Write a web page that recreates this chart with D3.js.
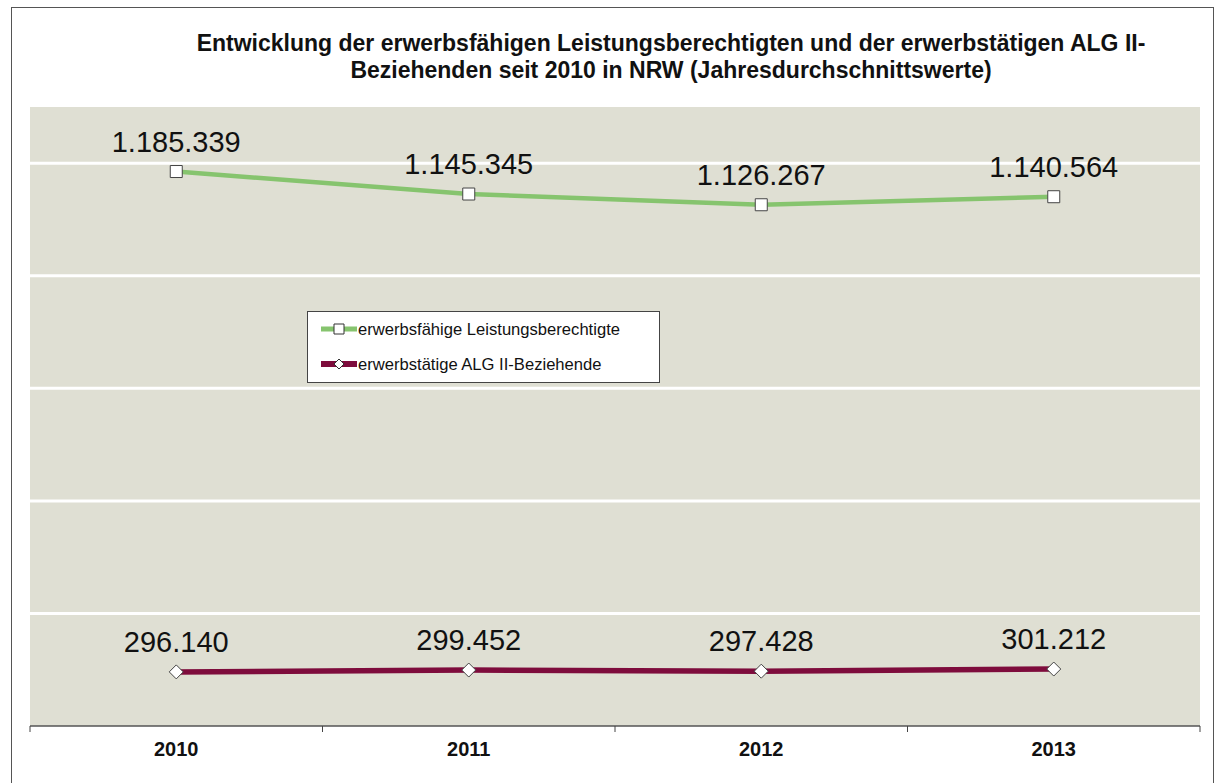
<!DOCTYPE html>
<html>
<head>
<meta charset="utf-8">
<script src="https://cdn.jsdelivr.net/npm/d3@7"></script>
<style>
  html, body { margin: 0; padding: 0; background: #ffffff; }
  svg { display: block; font-family: Arial, "Liberation Sans", sans-serif; }
</style>
</head>
<body>
<svg id="chart" width="1215" height="783"></svg>
<script>
// Jahresdurchschnittswerte NRW
const years = ["2010", "2011", "2012", "2013"];
const elbValues = [1185339, 1145345, 1126267, 1140564];   // erwerbsfähige Leistungsberechtigte
const algValues = [296140, 299452, 297428, 301212];       // erwerbstätige ALG II-Beziehende
const seriesNames = ["erwerbsfähige Leistungsberechtigte", "erwerbstätige ALG II-Beziehende"];
const valueTicks = [200000, 400000, 600000, 800000, 1000000, 1200000];
const valueDomain = [200000, 1300000];
const titleLines = [
  "Entwicklung der erwerbsfähigen Leistungsberechtigten und der erwerbstätigen ALG II-",
  "Beziehenden seit 2010 in NRW (Jahresdurchschnittswerte)"
];

const svg = d3.select("#chart");
const plot = { left: 30, right: 1200, top: 107, bottom: 726 };

// outer frame
svg.append("rect")
  .attr("x", 11.5).attr("y", 7.5)
  .attr("width", 1202).attr("height", 800)
  .attr("fill", "#ffffff").attr("stroke", "#555555").attr("stroke-width", 1);

// title
const title = svg.append("text")
  .attr("text-anchor", "middle")
  .attr("font-size", 23).attr("font-weight", "bold").attr("fill", "#111");
title.selectAll("tspan").data(titleLines).join("tspan")
  .attr("x", 671)
  .attr("y", (d, i) => 51 + i * 27)
  .text(d => d);

const x = d3.scaleBand().domain(years).range([plot.left, plot.right]).paddingInner(0).paddingOuter(0);
const y = d3.scaleLinear().domain(valueDomain).range([plot.bottom, plot.top]);
const cx = d => x(d) + x.bandwidth() / 2;

// plot background
svg.append("rect")
  .attr("x", plot.left).attr("y", plot.top)
  .attr("width", plot.right - plot.left).attr("height", plot.bottom - plot.top)
  .attr("fill", "#dfdfd3");

// horizontal gridlines
svg.append("g").selectAll("line").data(valueTicks.slice(1)).join("line")
  .attr("x1", plot.left).attr("x2", plot.right)
  .attr("y1", d => y(d)).attr("y2", d => y(d))
  .attr("stroke", "#ffffff").attr("stroke-width", 3);

// category axis
const xAxis = svg.append("g").attr("transform", `translate(0,${plot.bottom})`);
xAxis.append("line")
  .attr("x1", plot.left).attr("x2", plot.right)
  .attr("stroke", "#555555").attr("stroke-width", 1.5);
const bounds = years.map(d => x(d)).concat([plot.right]);
xAxis.selectAll("line.tick").data(bounds).join("line")
  .attr("class", "tick")
  .attr("x1", d => d).attr("x2", d => d)
  .attr("y1", 0).attr("y2", 6)
  .attr("stroke", "#444").attr("stroke-width", 1);
xAxis.selectAll("text").data(years).join("text")
  .attr("x", d => cx(d)).attr("y", 30)
  .attr("text-anchor", "middle")
  .attr("font-size", 20).attr("font-weight", "bold").attr("fill", "#111")
  .text(d => d);

const fmt = v => d3.format(",")(v).replace(/,/g, ".");

function drawSeries(values, color, width, marker) {
  const data = years.map((yr, i) => ({ yr, v: values[i] }));
  const line = d3.line().x(d => cx(d.yr)).y(d => y(d.v));
  const g = svg.append("g");
  g.append("path").datum(data)
    .attr("d", line).attr("fill", "none")
    .attr("stroke", color).attr("stroke-width", width)
    .attr("stroke-linejoin", "round");
  g.selectAll("path.m").data(data).join("path")
    .attr("class", "m")
    .attr("transform", d => `translate(${cx(d.yr)},${y(d.v)})`)
    .attr("d", marker)
    .attr("fill", "#ffffff").attr("stroke", "#444").attr("stroke-width", 1);
  g.selectAll("text").data(data).join("text")
    .attr("x", d => cx(d.yr)).attr("y", d => y(d.v) - 20)
    .attr("text-anchor", "middle")
    .attr("font-size", 29).attr("fill", "#111")
    .text(d => fmt(d.v));
}

const squareMarker = "M-6,-6H6V6H-6Z";
const diamondMarker = "M0,-7L7,0L0,7L-7,0Z";

drawSeries(elbValues, "#86c46e", 4.5, squareMarker);
drawSeries(algValues, "#7e0c3c", 5.5, diamondMarker);

// legend
const legend = svg.append("g");
legend.append("rect")
  .attr("x", 307.5).attr("y", 311.5).attr("width", 352).attr("height", 71)
  .attr("fill", "#ffffff").attr("stroke", "#444").attr("stroke-width", 1);
const legendItems = [
  { name: seriesNames[0], color: "#86c46e", w: 5, marker: "M-5,-5H5V5H-5Z", y: 329 },
  { name: seriesNames[1], color: "#7e0c3c", w: 6, marker: "M0,-5L5,0L0,5L-5,0Z", y: 364 }
];
const li = legend.selectAll("g").data(legendItems).join("g")
  .attr("transform", d => `translate(0,${d.y})`);
li.append("line")
  .attr("x1", 321).attr("x2", 357)
  .attr("stroke", d => d.color).attr("stroke-width", d => d.w);
li.append("path")
  .attr("transform", "translate(339,0)")
  .attr("d", d => d.marker)
  .attr("fill", "#fff").attr("stroke", "#333").attr("stroke-width", 1);
li.append("text")
  .attr("x", 358).attr("y", 6)
  .attr("font-size", 16.6).attr("fill", "#111")
  .text(d => d.name);
</script>
</body>
</html>
